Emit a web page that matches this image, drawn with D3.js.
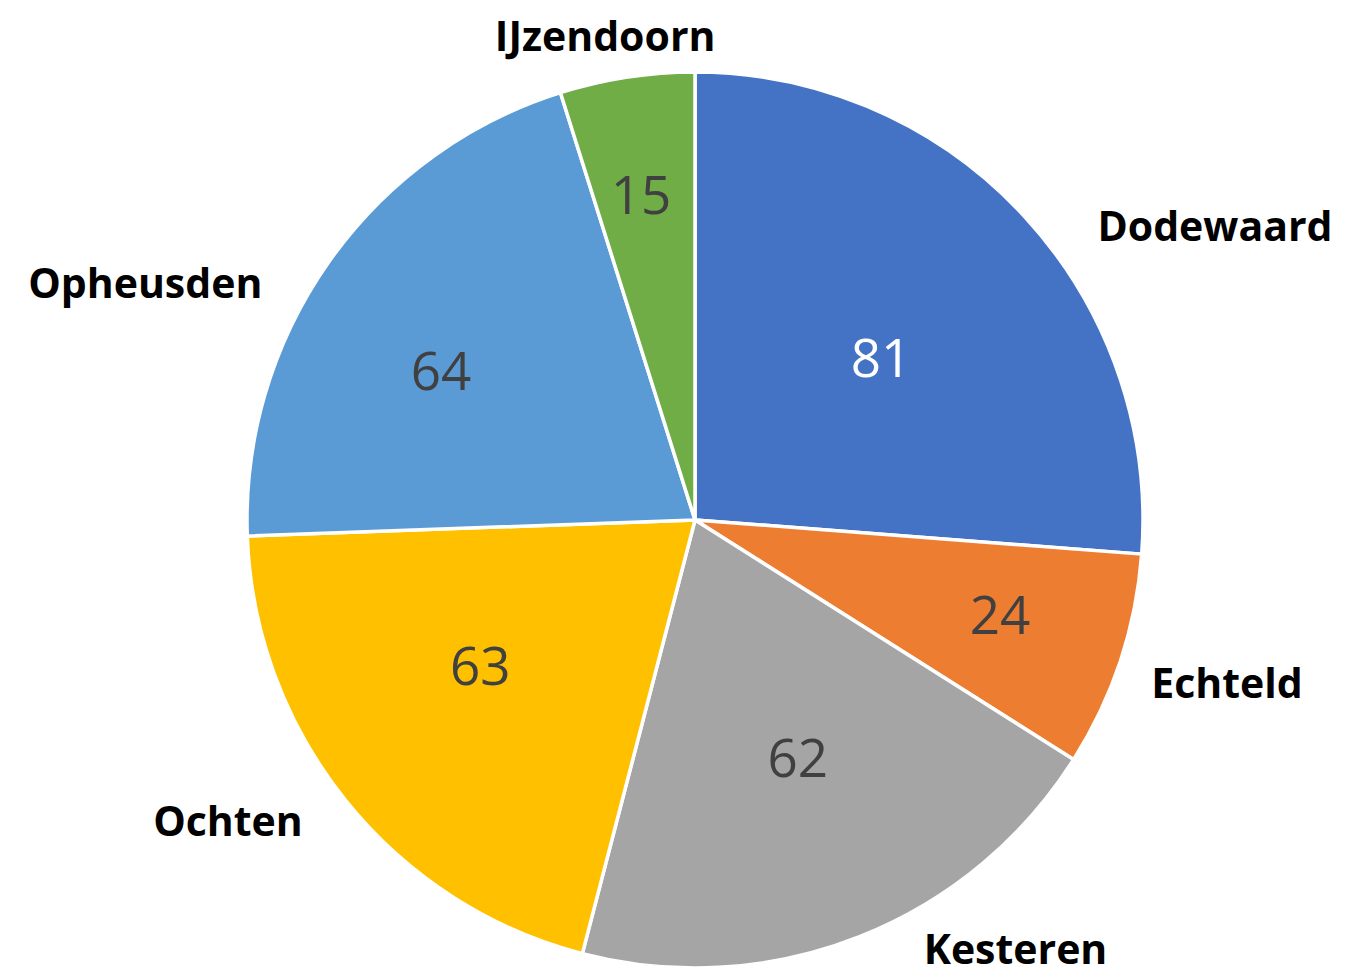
<!DOCTYPE html>
<html>
<head>
<meta charset="utf-8">
<script src="https://cdn.jsdelivr.net/npm/d3@7"></script>
<style>
  body { margin: 0; background: #fff; }
  svg { display: block; }
</style>
</head>
<body>
<div id="chart"></div>
<script>
const categories = ["Dodewaard", "Echteld", "Kesteren", "Ochten", "Opheusden", "IJzendoorn"]
const values = [81, 24, 62, 63, 64, 15]
const colors = ["#4472C4", "#ED7D31", "#A5A5A5", "#FFC000", "#5B9BD5", "#70AD47"]

// Excel "best fit" placement, as polar [angle deg, distance from center in px]
const valueLabelPos = [[48.6, 248], [107, 319], [156.5, 258], [236, 259], [300.6, 295], [350.6, 331]]
const nameLabelPos = [[60.4, 598], [106.9, 556], [143.2, 535], [237.3, 555], [293.4, 599], [349.5, 493]]

const width = 1353, height = 971
const cx = 695, cy = 520, radius = 448

const svg = d3.select("#chart").append("svg")
    .attr("width", width)
    .attr("height", height)

const g = svg.append("g").attr("transform", "translate(" + cx + "," + cy + ")")

const data = categories.map((c, i) => ({ name: c, value: values[i], i: i }))

const pie = d3.pie().value(d => d.value).sort(null)
const arc = d3.arc().innerRadius(0).outerRadius(radius)

g.selectAll("path.slice")
    .data(pie(data))
    .enter().append("path")
    .attr("class", "slice")
    .attr("d", arc)
    .attr("fill", d => colors[d.data.i])
    .attr("stroke", "#fff")
    .attr("stroke-width", 3.5)
    .attr("stroke-linejoin", "round")

const polar = p => {
    const a = p[0] * Math.PI / 180
    return [Math.sin(a) * p[1], -Math.cos(a) * p[1]]
}

g.selectAll("text.value")
    .data(data)
    .enter().append("text")
    .attr("class", "value")
    .attr("x", d => polar(valueLabelPos[d.i])[0])
    .attr("y", d => polar(valueLabelPos[d.i])[1])
    .attr("text-anchor", "middle")
    .attr("dominant-baseline", "central")
    .attr("font-family", "'Open Sans', sans-serif")
    .attr("font-size", 53)
    .attr("fill", d => d.i === 0 ? "#fff" : "#404040")
    .text(d => d.value)

g.selectAll("text.name")
    .data(data)
    .enter().append("text")
    .attr("class", "name")
    .attr("x", d => polar(nameLabelPos[d.i])[0])
    .attr("y", d => polar(nameLabelPos[d.i])[1])
    .attr("text-anchor", "middle")
    .attr("dominant-baseline", "central")
    .attr("font-family", "'Open Sans', sans-serif")
    .attr("font-weight", "bold")
    .attr("font-size", 41)
    .attr("fill", "#000")
    .text(d => d.name)
</script>
</body>
</html>
